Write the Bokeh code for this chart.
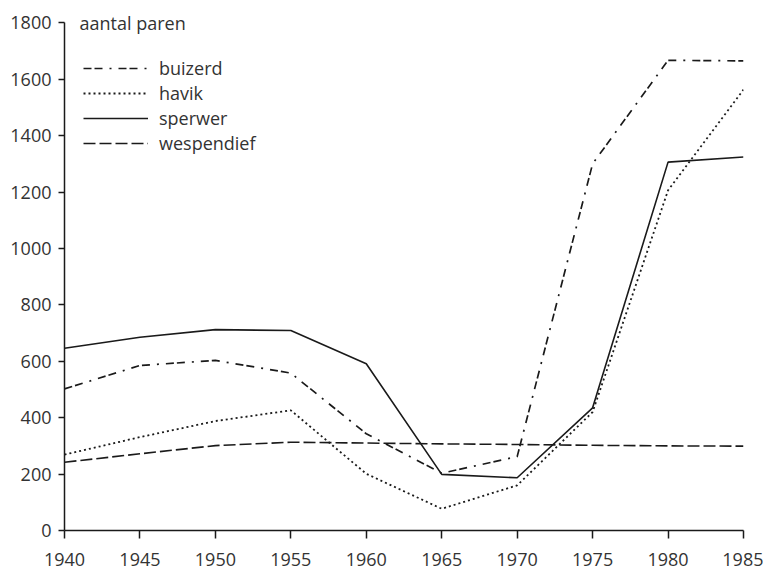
from bokeh.plotting import figure
from bokeh.models import Range1d, Legend, LegendItem, Label, FixedTicker
from bokeh.embed import file_html
from bokeh.resources import INLINE

years = [1940, 1945, 1950, 1955, 1960, 1965, 1970, 1975, 1980, 1985]
buizerd = [502, 585, 603, 558, 343, 203, 262, 1300, 1667, 1665]
havik = [269, 331, 388, 426, 201, 77, 160, 420, 1206, 1563]
sperwer = [646, 685, 712, 709, 591, 199, 187, 435, 1306, 1324]
wespendief = [242, 272, 301, 313, 310, 307, 305, 302, 300, 299]
y_ticks = [0, 200, 400, 600, 800, 1000, 1200, 1400, 1600, 1800]
y_title = "aantal paren"

FONT = "Open Sans"
INK = "#1a1a1a"

p = figure(width=763, height=572, output_backend="svg", toolbar_location=None,
           x_range=Range1d(1940, 1985), y_range=Range1d(0, 1840),
           frame_width=679, frame_height=519,
           min_border_left=64, min_border_top=11, min_border_right=20, min_border_bottom=42)
p.outline_line_color = None
p.xgrid.visible = False
p.ygrid.visible = False
p.background_fill_color = "white"
p.border_fill_color = "white"

for ax in (p.xaxis[0], p.yaxis[0]):
    ax.axis_line_color = INK
    ax.axis_line_width = 1.5
    ax.major_tick_line_color = INK
    ax.major_tick_line_width = 1.5
    ax.minor_tick_line_color = None
    ax.major_tick_in = 0
    ax.major_label_text_font = FONT
    ax.major_label_text_font_size = "18px"
    ax.major_label_text_color = "#333333"

p.xaxis[0].ticker = FixedTicker(ticks=years)
p.xaxis[0].major_tick_out = 8
p.xaxis[0].major_label_standoff = 14
p.yaxis[0].ticker = FixedTicker(ticks=y_ticks)
p.yaxis[0].bounds = (0, 1800)
p.yaxis[0].major_tick_out = 6
p.yaxis[0].major_label_standoff = 7

r_b = p.line(years, buizerd, line_color=INK, line_width=1.7, line_dash="8 3 8 7 2 7")
r_h = p.line(years, havik, line_color=INK, line_width=1.8, line_dash="2 3")
r_s = p.line(years, sperwer, line_color=INK, line_width=1.6)
r_w = p.line(years, wespendief, line_color=INK, line_width=1.6, line_dash="12 4")

legend = Legend(items=[LegendItem(label="buizerd", renderers=[r_b]),
                       LegendItem(label="havik", renderers=[r_h]),
                       LegendItem(label="sperwer", renderers=[r_s]),
                       LegendItem(label="wespendief", renderers=[r_w])],
                location=(19, 375), glyph_width=65, glyph_height=20, label_height=20,
                spacing=1, padding=0, margin=0, label_standoff=11,
                label_text_font=FONT, label_text_font_size="18px", label_text_color="#333333",
                background_fill_alpha=0, border_line_color=None)
p.add_layout(legend, "center")

p.add_layout(Label(x=1940, y=1800, x_offset=15, text=y_title, text_baseline="middle",
                   text_font=FONT, text_font_size="18px", text_color="#333333"))

open("out.html", "w").write(file_html(p, INLINE))
